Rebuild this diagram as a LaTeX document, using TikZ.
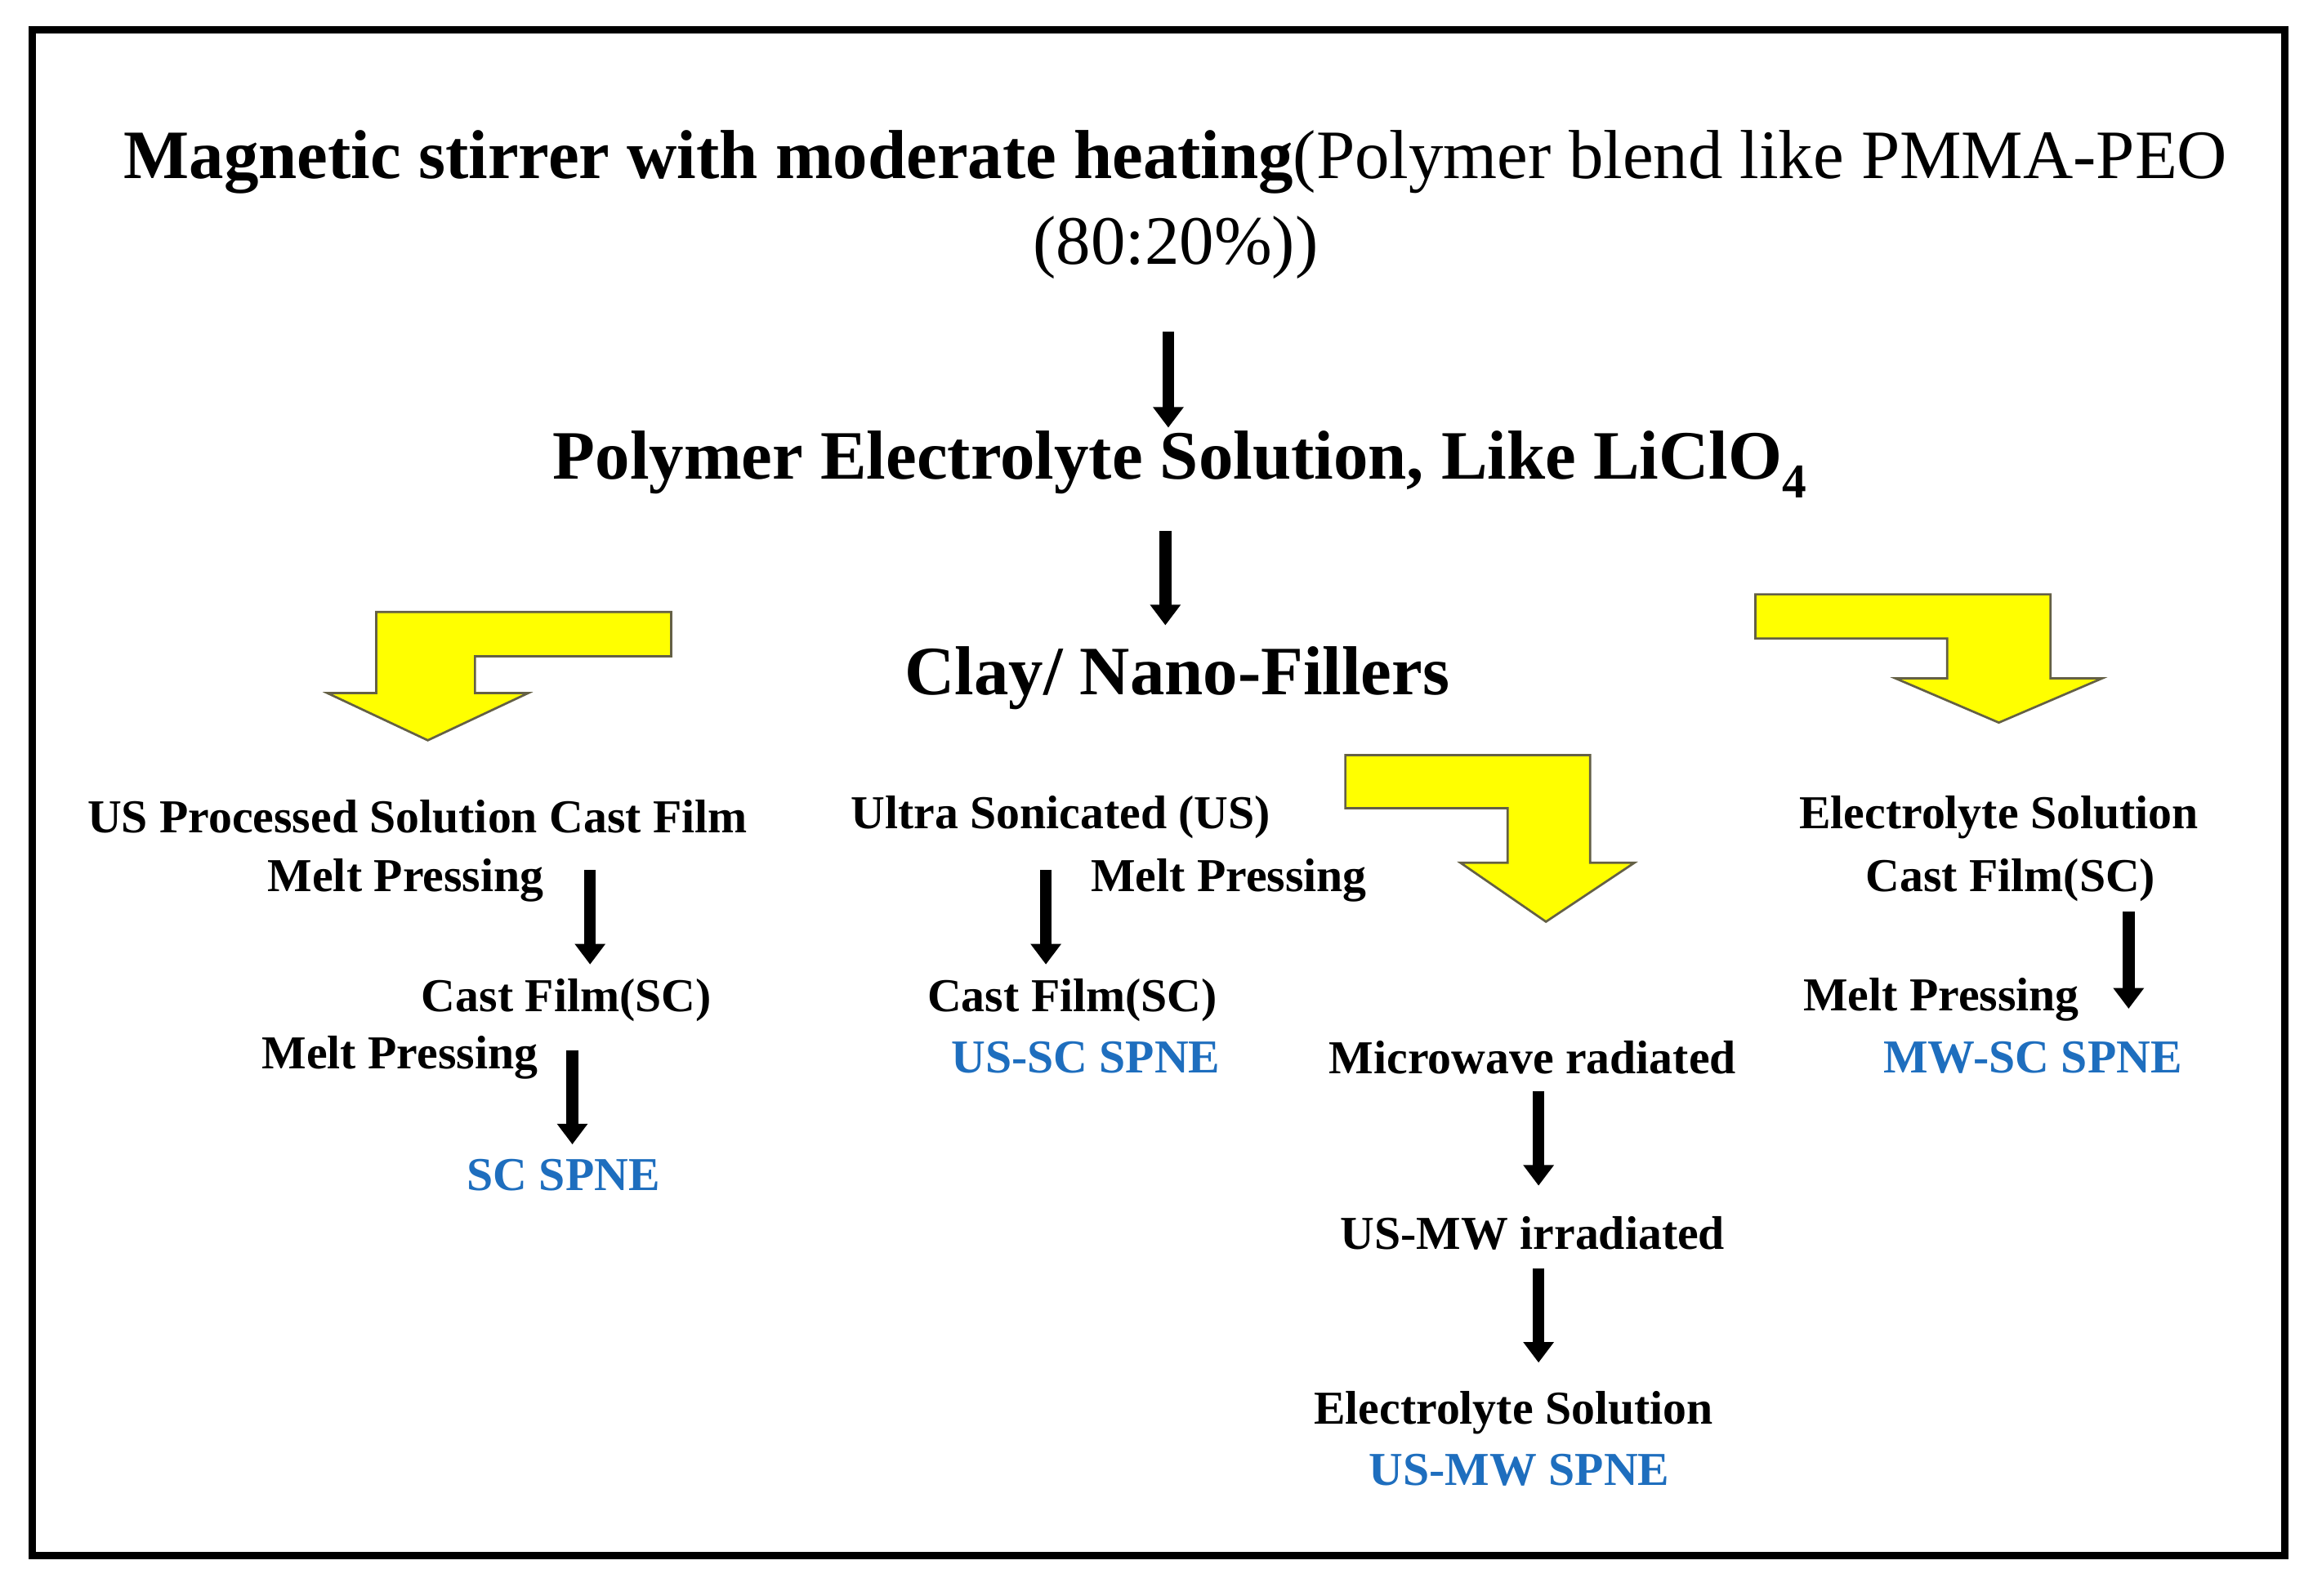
\documentclass[tikz,border=0pt]{standalone}
\usepackage{fontspec}
\setmainfont{Liberation Serif}
\usetikzlibrary{arrows.meta}
\definecolor{lblue}{RGB}{30,110,190}
\definecolor{yel}{RGB}{255,255,0}
\begin{document}
\begin{tikzpicture}[x=1pt,y=-1pt,
  t/.style={font=\fontsize{32}{34}\selectfont\bfseries,inner sep=0pt,anchor=center},
  b/.style={t,text=lblue},
  big/.style={font=\fontsize{47}{50}\selectfont\bfseries,inner sep=0pt},
  ba/.style={line width=8pt,-{Triangle[width=20pt,length=14pt]}},
  ya/.style={fill=yel,draw=black!70!yellow,line width=1.5pt,line join=miter}]
\useasboundingbox (0,0) rectangle (1568,1082);
\draw[line width=5pt] (22,20) rectangle (1549,1055);
\node[inner sep=0pt,font=\fontsize{47}{50}\selectfont] (t1) at (797,110) {\textbf{Magnetic stirrer with moderate heating}(Polymer blend like PMMA-PEO};
\node[inner sep=0pt,font=\fontsize{47}{50}\selectfont] (t2) at (797,168) {(80:20\%))};
\node[big] (pe) at (800,315) {Polymer Electrolyte Solution, Like LiClO$_{\mathbf 4}$};
\node[big] (cl) at (798,460) {Clay/ Nano-Fillers};
% left column
\node[t] (l1) at (283,554) {US Processed Solution Cast Film};
\node[t] (l2) at (275,597) {Melt Pressing};
\node[t] (l3) at (384,678) {Cast Film(SC)};
\node[t] (l4) at (271,717) {Melt Pressing};
\node[b] (l5) at (382,797) {SC SPNE};
% middle
\node[t] (m1) at (719,554) {Ultra Sonicated (US)};
\node[t] (m2) at (833,597) {Melt Pressing};
\node[t] (m3) at (727,678) {Cast Film(SC)};
\node[b] (m4) at (736,717) {US-SC SPNE};
\node[t] (w1) at (1039,717) {Microwave radiated};
\node[t] (w2) at (1039,836) {US-MW irradiated};
\node[t] (w3) at (1026,958) {Electrolyte Solution};
\node[b] (w4) at (1030,997) {US-MW SPNE};
% right
\node[t] (r1) at (1355,554) {Electrolyte Solution};
\node[t] (r2) at (1363,597) {Cast Film(SC)};
\node[t] (r3) at (1316,678) {Melt Pressing};
\node[b] (r4) at (1378,717) {MW-SC SPNE};
% black arrows
\coordinate (a1s) at (792,225); \coordinate (a1e) at (792,290);
\coordinate (a2s) at (790,360); \coordinate (a2e) at (790,424);
\coordinate (a3s) at (400,590); \coordinate (a3e) at (400,654);
\coordinate (a4s) at (709,590); \coordinate (a4e) at (709,654);
\coordinate (a5s) at (388,712); \coordinate (a5e) at (388,776);
\coordinate (a6s) at (1043,740); \coordinate (a6e) at (1043,804);
\coordinate (a7s) at (1043,860); \coordinate (a7e) at (1043,924);
\coordinate (a8s) at (1443,618); \coordinate (a8e) at (1443,684);
\foreach \i in {1,...,8} \draw[ba] (a\i s) -- (a\i e);
% yellow arrows
\draw[ya] (455,415)--(255,415)--(255,470)--(222,470)--(290,502)--(358,470)--(322,470)--(322,445)--(455,445)--cycle;
\draw[ya] (1190,403)--(1390,403)--(1390,460)--(1425,460)--(1355,490)--(1285,460)--(1320,460)--(1320,433)--(1190,433)--cycle;
\draw[ya] (912,512)--(1078,512)--(1078,585)--(1108,585)--(1048,625)--(990,585)--(1022,585)--(1022,548)--(912,548)--cycle;
\end{tikzpicture}
\end{document}
